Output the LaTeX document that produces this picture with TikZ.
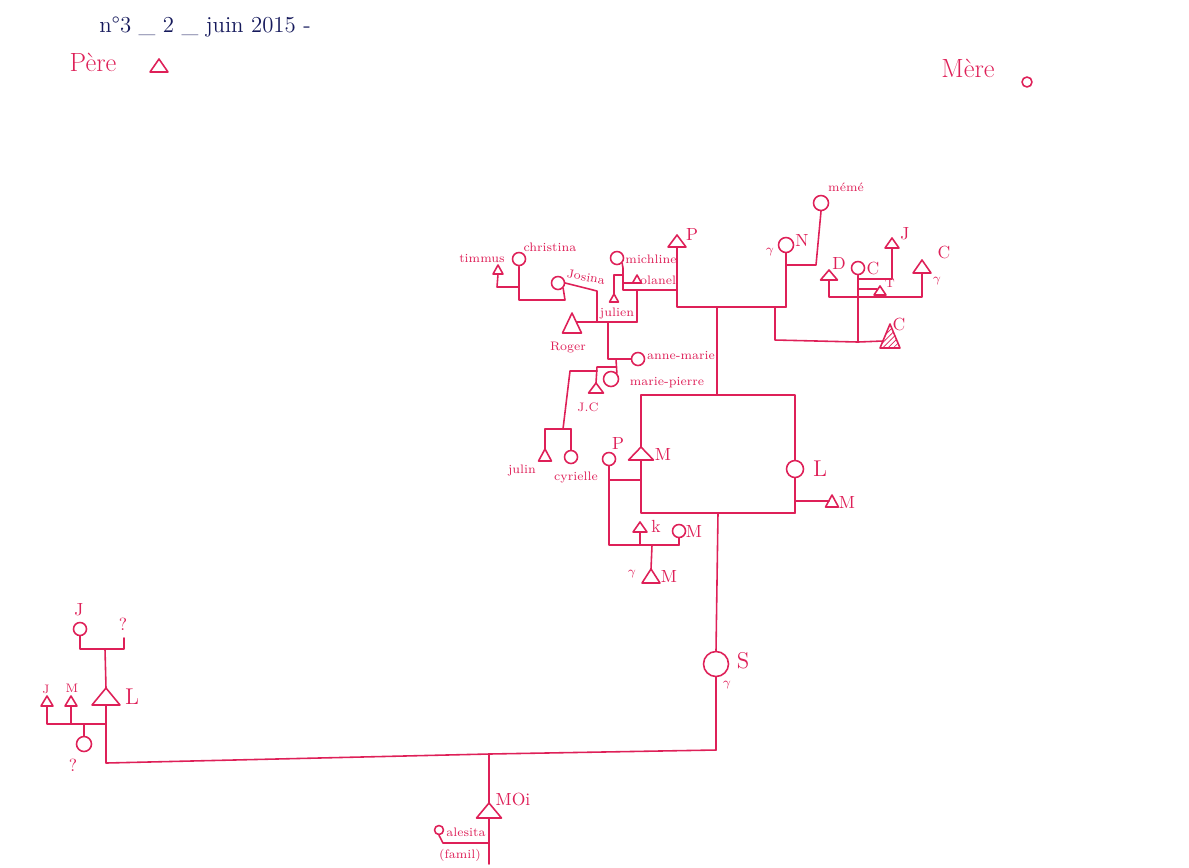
\documentclass[tikz,border=0pt]{standalone}
\usetikzlibrary{patterns}
\definecolor{pen}{RGB}{222,32,88}
\definecolor{ink}{RGB}{22,26,92}
\tikzset{
  lbl/.style={text=pen, inner sep=0pt, font=\fontsize{7}{8}\selectfont},
  let/.style={text=pen, inner sep=0pt, font=\fontsize{10}{11}\selectfont},
  bigl/.style={text=pen, inner sep=0pt, font=\fontsize{13}{14}\selectfont},
  big/.style={text=pen, inner sep=0pt, font=\fontsize{15}{16}\selectfont},
  hdr/.style={text=ink, inner sep=0pt, font=\fontsize{13}{14}\selectfont},
  circ/.style={circle, draw=pen, inner sep=0pt},
  c5/.style={circ, minimum size=0.2cm},
  c6/.style={circ, minimum size=0.26cm},
  c7/.style={circ, minimum size=0.3cm},
  c8/.style={circ, minimum size=0.34cm},
  c12/.style={circ, minimum size=0.5cm},
  pics/tri/.style 2 args={code={
    \draw (-#1/2,0) -- (#1/2,0) -- (0,-#2) -- cycle;
    \coordinate (-b) at (0,0);
    \coordinate (-t) at (0,-#2);
  }},
  pics/htri/.style 2 args={code={
    \draw[pattern=north east lines, pattern color=pen] (-#1/2,0) -- (#1/2,0) -- (0,-#2) -- cycle;
    \coordinate (-b) at (0,0);
    \coordinate (-t) at (0,-#2);
  }},
}
\begin{document}
\begin{tikzpicture}[x=0.02cm,y=-0.02cm,line width=0.9pt,color=pen,line join=round,line cap=round]
\useasboundingbox (0,0) rectangle (1189,867);

% header
\node[hdr] (date) at (205,27) {n°3 \_ 2 \_ juin 2015 -};
\node[big] (pere) at (93,62) {Père};
\pic (pereT) at (159,72) {tri={18}{13}};
\node[big] (mere) at (968,68) {Mère};
\node[c5] (mereC) at (1027,82) {};

% top-left cluster
\node[lbl] (timmusL) at (482,258) {timmus};
\pic (timmus) at (498,274) {tri={10}{9}};
\node[c6] (christina) at (519,259) {};
\node[lbl] (christinaL) at (550,247) {christina};
\node[c6] (josina) at (558,283) {};
\node[lbl, rotate=-10] (josinaL) at (586,277) {Josina};
\node[c6] (mich) at (617,258) {};
\node[lbl] (michL) at (651,259) {michline};
\pic (solanel) at (637,283) {tri={9}{8}};
\node[lbl] (solanelL) at (658,280) {olanel};
\pic (P) at (677,247) {tri={18}{12}};
\node[let] (PL) at (692,234) {P};
\pic (julien) at (614,302) {tri={9}{8}};
\node[lbl] (julienL) at (617,313) {julien};
\pic (roger) at (572,333) {tri={19}{20}};
\node[lbl] (rogerL) at (568,348) {Roger};
\node[c6] (annemarie) at (638,359) {};
\node[lbl] (annemarieL) at (681,355) {anne-marie};
\node[c7] (mariepierre) at (611,379) {};
\node[lbl] (mariepierreL) at (667,383) {marie-pierre};
\pic (jc) at (596,393) {tri={15}{10}};
\node[lbl] (jcL) at (588,407) {J.C};
\pic (julin) at (545,461) {tri={13}{12}};
\node[lbl] (julinL) at (522,470) {julin};
\node[c6] (cyrielle) at (571,457) {};
\node[lbl] (cyrielleL) at (576,477) {cyrielle};

\draw (timmus-b) -- (497,287) -- (519,287);
\draw (christina.south) -- (519,300) -- (565,300) -- (josina.south east);
\draw (josina.east) -- (597,291) -- (597,322);
\draw (577,322) -- (637,322);
\draw (637,290) -- (637,322);
\draw (608,322) -- (608,359) -- (annemarie.west);
\draw (mich.south east) -- (623,268) -- (623,290) -- (677,290);
\draw (623,283) -- (633,283);
\draw (623,275) -- (614,275) -- (julien-t);
\draw (P-b) -- (677,307) -- (786,307);
\draw (616,359) -- (mariepierre.north east);
\draw (616,367) -- (597,367) -- (jc-t);
\draw (597,371) -- (570,371) -- (563,429);
\draw (545,429) -- (571,429);
\draw (545,429) -- (julin-t);
\draw (571,429) -- (cyrielle.north);

% right cluster
\node[c7] (N) at (786,245) {};
\node[let] (NL) at (802,240) {N};
\node[lbl] (Ng) at (770,252) {$\gamma$};
\node[c7] (meme) at (821,203) {};
\node[lbl] (memeL) at (846,187) {mémé};
\draw (N.south) -- (786,307);
\draw (meme.south) -- (816,265) -- (786,265);
\draw (775,307) -- (775,340) -- (858,342);
\node[c6] (C) at (858,268) {};
\node[let] (CL) at (873,268) {C};
\pic (J) at (892,248) {tri={14}{10}};
\node[let] (JL) at (905,234) {J};
\draw (C.south) -- (858,342) -- (883,341);
\draw (858,279) -- (892,279) -- (J-b);
\pic (T) at (880,295) {tri={12}{9}};
\node[lbl] (TL) at (890,283) {T};
\draw (858,289) -- (877,289);
\pic (D) at (829,280) {tri={17}{10}};
\node[let] (DL) at (839,263) {D};
\pic (C2) at (922,273) {tri={18}{13}};
\node[let] (C2L) at (944,252) {C};
\node[lbl] (C2g) at (937,281) {$\gamma$};
\draw (D-b) -- (829,297) -- (922,297) -- (C2-b);
\pic (Ch) at (890,348) {htri={20}{24}};
\node[let] (ChL) at (899,324) {C};

% central rectangle
\draw (717,307) -- (717,395);
\pic (Mm) at (641,460) {tri={25}{13}};
\node[let] (MmL) at (663,454) {M};
\node[c8] (L) at (795,469) {};
\node[bigl] (LL) at (820,469) {L};
\draw (Mm-t) -- (641,395) -- (795,395) -- (L.north);
\draw (L.south) -- (795,513);
\pic (Mr) at (832,507) {tri={13}{12}};
\node[let] (MrL) at (847,502) {M};
\draw (795,501) -- (829,501);
\draw (Mm-b) -- (641,513) -- (795,513);
\node[c12] (S) at (716,664) {};
\node[bigl] (SL) at (743,661) {S};
\node[lbl] (Sg) at (727,685) {$\gamma$};
\draw (718,513) -- (S.north);
\draw (S.south) -- (716,750);

\node[c6] (Pc) at (609,459) {};
\node[let] (PcL) at (618,443) {P};
\draw (Pc.south) -- (609,545) -- (679,545);
\draw (609,480) -- (641,480);
\pic (K) at (640,532) {tri={14}{10}};
\node[let] (KL) at (656,526) {k};
\node[c6] (Mc) at (679,531) {};
\node[let] (McL) at (694,531) {M};
\draw (K-b) -- (640,545);
\draw (Mc.south) -- (679,545);
\pic (Mk) at (651,583) {tri={18}{14}};
\node[let] (MkL) at (669,576) {M};
\node[lbl] (Mkg) at (632,574) {$\gamma$};
\draw (652,545) -- (Mk-t);

% bottom-left
\node[c6] (Jc) at (80,629) {};
\node[let] (JcL) at (79,610) {J};
\node[let] (q1) at (123,624) {?};
\draw (Jc.south) -- (80,649) -- (124,649) -- (124,638);
\pic (Lt) at (106,705) {tri={28}{17}};
\node[bigl] (LtL) at (132,697) {L};
\draw (105,649) -- (Lt-t);
\draw (Lt-b) -- (106,763) -- (489,754) -- (716,750);
\pic (Jt) at (47,706) {tri={12}{10}};
\node[lbl] (JtL) at (46,689) {J};
\pic (Mt) at (71,706) {tri={12}{10}};
\node[lbl] (MtL) at (72,688) {M};
\draw (Jt-b) -- (47,724) -- (106,724);
\draw (Mt-b) -- (71,724);
\node[c7] (qc) at (84,744) {};
\draw (84,724) -- (qc.north);
\node[let] (q2) at (73,765) {?};

% moi
\pic (moi) at (489,818) {tri={25}{15}};
\node[let] (moiL) at (513,799) {MOi};
\draw (489,754) -- (moi-t);
\draw (moi-b) -- (489,864);
\node[circ, minimum size=0.18cm] (gc) at (439,830) {};
\node[lbl] (gL) at (466,832) {alesita};
\draw (gc.south) -- (443,843) -- (489,843);
\node[lbl] (famL) at (460,855) {(famil)};
\end{tikzpicture}
\end{document}
